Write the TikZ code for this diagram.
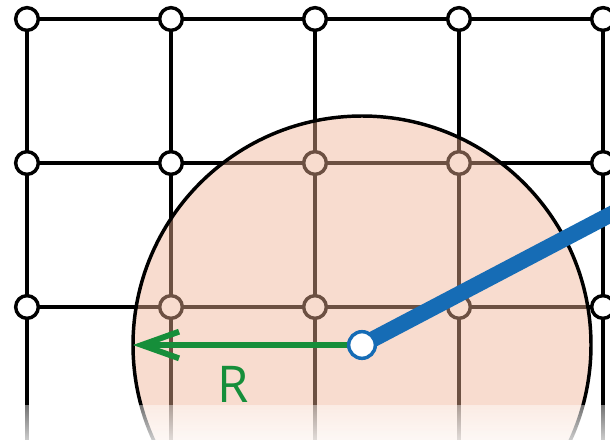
\documentclass[tikz,border=0pt]{standalone}
\usepackage{fontspec}
\setsansfont{Open Sans}
\usepackage{xcolor}
\usetikzlibrary{arrows.meta,fadings}
\definecolor{disc}{RGB}{240,178,148}
\definecolor{ray}{RGB}{22,108,181}
\definecolor{rad}{RGB}{22,142,58}
\tikzfading[name=fadebot, top color=transparent!72, bottom color=transparent!4]

\begin{document}
\begin{tikzpicture}[
  x=0.75pt, y=-0.75pt,
  site/.style={draw,circle,fill=white,line width=2.6pt,minimum size=17pt,inner sep=0pt},
  bond/.style={line width=2.6pt},
  origin/.style={draw=ray,circle,fill=white,line width=2.6pt,minimum size=20pt,inner sep=0pt}]
  \useasboundingbox (0,0) rectangle (610,439);
  \clip (0,0) rectangle (610,439);
  % --- square lattice: sites and bonds ---
  \foreach \i/\x in {1/27,2/171,3/315,4/459,5/603}{%
    \foreach \j/\y in {1/19,2/163,3/307,4/451}{%
      \coordinate (p\i\j) at (\x,\y);}}
  \foreach \i in {1,...,5}{%
    \draw[bond] (p\i1) -- (p\i4);}
  \foreach \j in {1,2,3}{%
    \draw[bond] (p1\j) -- (p5\j) -- ++(20,0);}
  \foreach \i in {1,...,5}{%
    \foreach \j in {1,2,3}{%
      \node[site] (s\i\j) at (p\i\j) {};}}
  % --- cutoff disc of radius R ---
  \coordinate (c) at (362,345);
  \fill[disc,fill opacity=0.45] (c) circle[radius=229];
  \draw[line width=2.6pt] (c) circle[radius=229];
  \coordinate (rim) at (133,345);
  \coordinate (far) at (640,199);
  \draw[ray,line width=12pt] (c) -- (far);
  \draw[rad,line width=4.4pt,-{Straight Barb[length=28pt,width=20pt,line width=4.4pt]}] (c) -- (rim);
  \node[origin] (o) at (c) {};
  \node[rad,font=\sffamily\fontsize{38}{38}\selectfont] (lab) at (233,384) {R};
  % --- fade out at the bottom ---
  \begin{scope}
    \clip (0,405) rectangle (610,439);
    \fill[white,path fading=fadebot] (0,388) rectangle (610,456);
  \end{scope}
\end{tikzpicture}
\end{document}
